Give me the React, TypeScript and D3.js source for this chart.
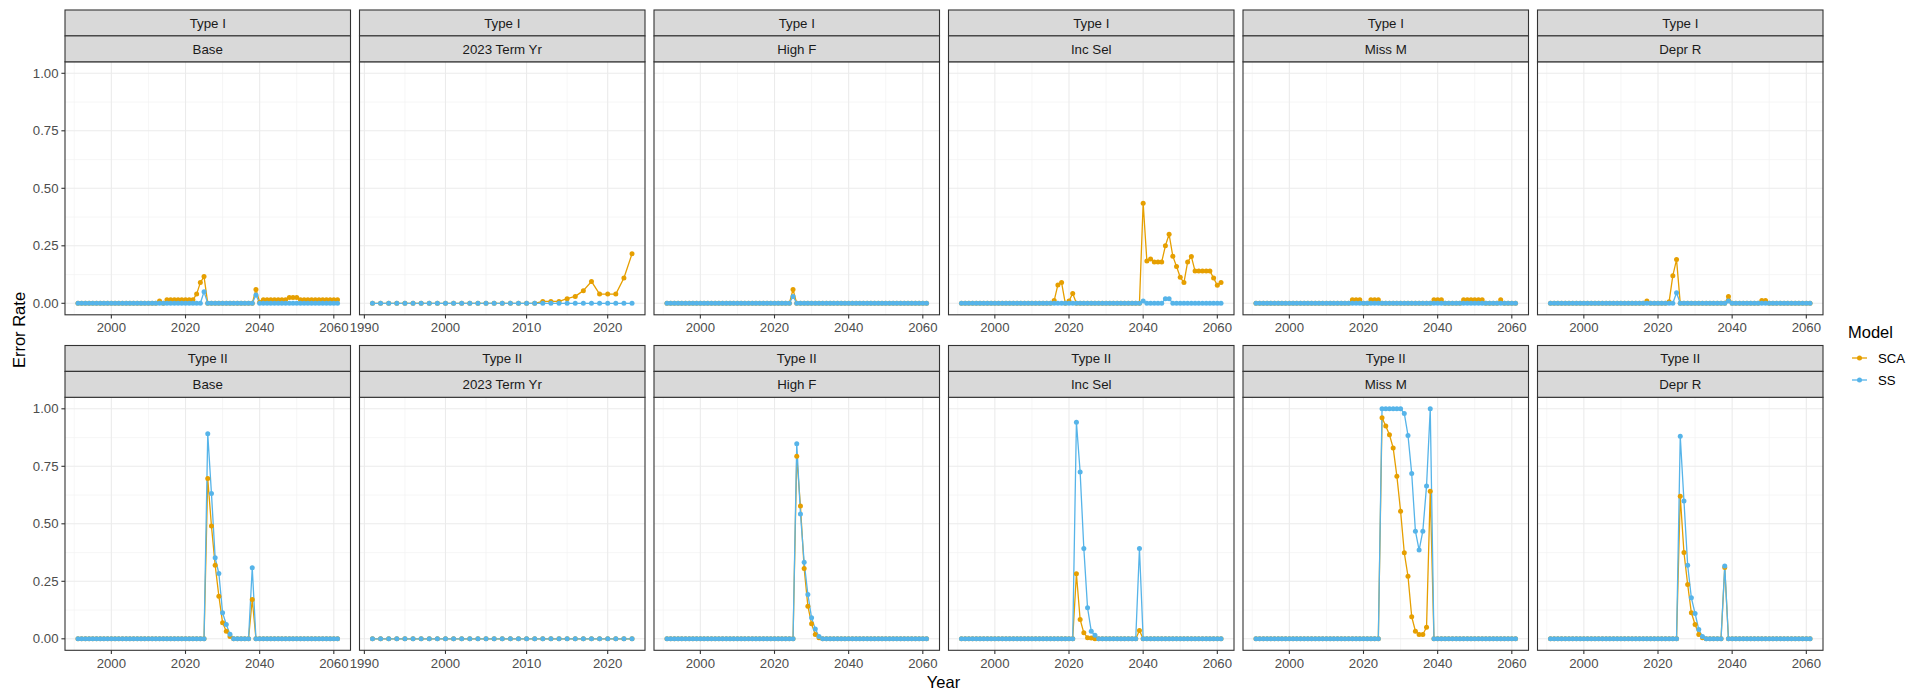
import React from "react";
import * as d3 from "d3";

// ---------- DATA ----------
const yearsFull = [
  1991, 1992, 1993, 1994, 1995, 1996, 1997, 1998, 1999, 2000,
  2001, 2002, 2003, 2004, 2005, 2006, 2007, 2008, 2009, 2010,
  2011, 2012, 2013, 2014, 2015, 2016, 2017, 2018, 2019, 2020,
  2021, 2022, 2023, 2024, 2025, 2026, 2027, 2028, 2029, 2030,
  2031, 2032, 2033, 2034, 2035, 2036, 2037, 2038, 2039, 2040,
  2041, 2042, 2043, 2044, 2045, 2046, 2047, 2048, 2049, 2050,
  2051, 2052, 2053, 2054, 2055, 2056, 2057, 2058, 2059, 2060,
  2061,
];
const yearsTerm = [
  1991, 1992, 1993, 1994, 1995, 1996, 1997, 1998, 1999, 2000,
  2001, 2002, 2003, 2004, 2005, 2006, 2007, 2008, 2009, 2010,
  2011, 2012, 2013, 2014, 2015, 2016, 2017, 2018, 2019, 2020,
  2021, 2022, 2023,
];

const errorTypes = ["Type I", "Type II"];
const scenarios = ["Base", "2023 Term Yr", "High F", "Inc Sel", "Miss M", "Depr R"];
const models = ["SCA", "SS"];

const ticksFull = [2000, 2020, 2040, 2060];
const minorFull = [1990, 2010, 2030, 2050];
const ticksTerm = [1990, 2000, 2010, 2020];
const minorTerm = [1995, 2005, 2015];
const yTicks = [0, 0.25, 0.5, 0.75, 1];
const yTickLabels = ["0.00", "0.25", "0.50", "0.75", "1.00"];
const yMinor = [0.125, 0.375, 0.625, 0.875];

// ---- Type I ----
const t1BaseSCA = [
  0, 0, 0, 0, 0, 0, 0, 0, 0, 0,
  0, 0, 0, 0, 0, 0, 0, 0, 0, 0,
  0, 0, 0.01, 0, 0.015, 0.015, 0.015, 0.015, 0.015, 0.015,
  0.015, 0.015, 0.04, 0.09, 0.116, 0, 0, 0, 0, 0,
  0, 0, 0, 0, 0, 0, 0, 0, 0.06, 0.005,
  0.015, 0.015, 0.015, 0.015, 0.015, 0.015, 0.015, 0.025, 0.025, 0.025,
  0.015, 0.015, 0.015, 0.015, 0.015, 0.015, 0.015, 0.015, 0.015, 0.015,
  0.015,
];
const t1BaseSS = [
  0, 0, 0, 0, 0, 0, 0, 0, 0, 0,
  0, 0, 0, 0, 0, 0, 0, 0, 0, 0,
  0, 0, 0, 0, 0, 0, 0, 0, 0, 0,
  0, 0, 0, 0, 0.05, 0, 0, 0, 0, 0,
  0, 0, 0, 0, 0, 0, 0, 0, 0.036, 0,
  0, 0, 0, 0, 0, 0, 0, 0, 0, 0,
  0, 0, 0, 0, 0, 0, 0, 0, 0, 0,
  0,
];
const t1TermSCA = [
  0, 0, 0, 0, 0, 0, 0, 0, 0, 0,
  0, 0, 0, 0, 0, 0, 0, 0, 0, 0,
  0, 0.008, 0.008, 0.008, 0.02, 0.03, 0.055, 0.095, 0.04, 0.04,
  0.04, 0.11, 0.215,
];
const t1TermSS = [
  0, 0, 0, 0, 0, 0, 0, 0, 0, 0,
  0, 0, 0, 0, 0, 0, 0, 0, 0, 0,
  0, 0, 0, 0, 0, 0, 0, 0, 0, 0,
  0, 0, 0,
];
const t1HighFSCA = [
  0, 0, 0, 0, 0, 0, 0, 0, 0, 0,
  0, 0, 0, 0, 0, 0, 0, 0, 0, 0,
  0, 0, 0, 0, 0, 0, 0, 0, 0, 0,
  0, 0, 0, 0, 0.06, 0, 0, 0, 0, 0,
  0, 0, 0, 0, 0, 0, 0, 0, 0, 0,
  0, 0, 0, 0, 0, 0, 0, 0, 0, 0,
  0, 0, 0, 0, 0, 0, 0, 0, 0, 0,
  0,
];
const t1HighFSS = [
  0, 0, 0, 0, 0, 0, 0, 0, 0, 0,
  0, 0, 0, 0, 0, 0, 0, 0, 0, 0,
  0, 0, 0, 0, 0, 0, 0, 0, 0, 0,
  0, 0, 0, 0, 0.03, 0, 0, 0, 0, 0,
  0, 0, 0, 0, 0, 0, 0, 0, 0, 0,
  0, 0, 0, 0, 0, 0, 0, 0, 0, 0,
  0, 0, 0, 0, 0, 0, 0, 0, 0, 0,
  0,
];
const t1IncSelSCA = [
  0, 0, 0, 0, 0, 0, 0, 0, 0, 0,
  0, 0, 0, 0, 0, 0, 0, 0, 0, 0,
  0, 0, 0, 0, 0, 0.012, 0.08, 0.09, 0, 0.01,
  0.043, 0, 0, 0, 0, 0, 0, 0, 0, 0,
  0, 0, 0, 0, 0, 0, 0, 0, 0, 0.435,
  0.184, 0.193, 0.18, 0.18, 0.18, 0.25, 0.3, 0.205, 0.16, 0.113,
  0.09, 0.18, 0.203, 0.14, 0.14, 0.14, 0.14, 0.14, 0.11, 0.078,
  0.09,
];
const t1IncSelSS = [
  0, 0, 0, 0, 0, 0, 0, 0, 0, 0,
  0, 0, 0, 0, 0, 0, 0, 0, 0, 0,
  0, 0, 0, 0, 0, 0, 0, 0, 0, 0,
  0, 0, 0, 0, 0, 0, 0, 0, 0, 0,
  0, 0, 0, 0, 0, 0, 0, 0, 0, 0.01,
  0, 0, 0, 0, 0, 0.02, 0.02, 0, 0, 0,
  0, 0, 0, 0, 0, 0, 0, 0, 0, 0,
  0,
];
const t1MissMSCA = [
  0, 0, 0, 0, 0, 0, 0, 0, 0, 0,
  0, 0, 0, 0, 0, 0, 0, 0, 0, 0,
  0, 0, 0, 0, 0, 0, 0.015, 0.015, 0.015, 0,
  0, 0.015, 0.015, 0.015, 0, 0, 0, 0, 0, 0,
  0, 0, 0, 0, 0, 0, 0, 0, 0.015, 0.015,
  0.015, 0, 0, 0, 0, 0, 0.015, 0.015, 0.015, 0.015,
  0.015, 0.015, 0, 0, 0, 0, 0.015, 0, 0, 0,
  0,
];
const t1MissMSS = [
  0, 0, 0, 0, 0, 0, 0, 0, 0, 0,
  0, 0, 0, 0, 0, 0, 0, 0, 0, 0,
  0, 0, 0, 0, 0, 0, 0, 0, 0, 0,
  0, 0, 0, 0, 0, 0, 0, 0, 0, 0,
  0, 0, 0, 0, 0, 0, 0, 0, 0, 0,
  0, 0, 0, 0, 0, 0, 0, 0, 0, 0,
  0, 0, 0, 0, 0, 0, 0, 0, 0, 0,
  0,
];
const t1DeprRSCA = [
  0, 0, 0, 0, 0, 0, 0, 0, 0, 0,
  0, 0, 0, 0, 0, 0, 0, 0, 0, 0,
  0, 0, 0, 0, 0, 0, 0.01, 0, 0, 0,
  0, 0, 0.007, 0.12, 0.19, 0, 0, 0, 0, 0,
  0, 0, 0, 0, 0, 0, 0, 0, 0.03, 0,
  0, 0, 0, 0, 0, 0, 0, 0.012, 0.012, 0,
  0, 0, 0, 0, 0, 0, 0, 0, 0, 0,
  0,
];
const t1DeprRSS = [
  0, 0, 0, 0, 0, 0, 0, 0, 0, 0,
  0, 0, 0, 0, 0, 0, 0, 0, 0, 0,
  0, 0, 0, 0, 0, 0, 0, 0, 0, 0,
  0, 0, 0, 0, 0.046, 0, 0, 0, 0, 0,
  0, 0, 0, 0, 0, 0, 0, 0, 0.01, 0,
  0, 0, 0, 0, 0, 0, 0, 0, 0, 0,
  0, 0, 0, 0, 0, 0, 0, 0, 0, 0,
  0,
];

// ---- Type II ----
const t2BaseSCA = [
  0, 0, 0, 0, 0, 0, 0, 0, 0, 0,
  0, 0, 0, 0, 0, 0, 0, 0, 0, 0,
  0, 0, 0, 0, 0, 0, 0, 0, 0, 0,
  0, 0, 0, 0, 0, 0.697, 0.49, 0.32, 0.185, 0.07,
  0.033, 0.01, 0, 0, 0, 0, 0, 0.171, 0, 0,
  0, 0, 0, 0, 0, 0, 0, 0, 0, 0,
  0, 0, 0, 0, 0, 0, 0, 0, 0, 0,
  0,
];
const t2BaseSS = [
  0, 0, 0, 0, 0, 0, 0, 0, 0, 0,
  0, 0, 0, 0, 0, 0, 0, 0, 0, 0,
  0, 0, 0, 0, 0, 0, 0, 0, 0, 0,
  0, 0, 0, 0, 0, 0.891, 0.632, 0.352, 0.284, 0.113,
  0.062, 0.02, 0, 0, 0, 0, 0, 0.309, 0, 0,
  0, 0, 0, 0, 0, 0, 0, 0, 0, 0,
  0, 0, 0, 0, 0, 0, 0, 0, 0, 0,
  0,
];
const t2TermSCA = [
  0, 0, 0, 0, 0, 0, 0, 0, 0, 0,
  0, 0, 0, 0, 0, 0, 0, 0, 0, 0,
  0, 0, 0, 0, 0, 0, 0, 0, 0, 0,
  0, 0, 0,
];
const t2TermSS = [
  0, 0, 0, 0, 0, 0, 0, 0, 0, 0,
  0, 0, 0, 0, 0, 0, 0, 0, 0, 0,
  0, 0, 0, 0, 0, 0, 0, 0, 0, 0,
  0, 0, 0,
];
const t2HighFSCA = [
  0, 0, 0, 0, 0, 0, 0, 0, 0, 0,
  0, 0, 0, 0, 0, 0, 0, 0, 0, 0,
  0, 0, 0, 0, 0, 0, 0, 0, 0, 0,
  0, 0, 0, 0, 0, 0.794, 0.577, 0.306, 0.142, 0.065,
  0.019, 0.005, 0, 0, 0, 0, 0, 0, 0, 0,
  0, 0, 0, 0, 0, 0, 0, 0, 0, 0,
  0, 0, 0, 0, 0, 0, 0, 0, 0, 0,
  0,
];
const t2HighFSS = [
  0, 0, 0, 0, 0, 0, 0, 0, 0, 0,
  0, 0, 0, 0, 0, 0, 0, 0, 0, 0,
  0, 0, 0, 0, 0, 0, 0, 0, 0, 0,
  0, 0, 0, 0, 0, 0.848, 0.543, 0.333, 0.193, 0.091,
  0.043, 0.01, 0, 0, 0, 0, 0, 0, 0, 0,
  0, 0, 0, 0, 0, 0, 0, 0, 0, 0,
  0, 0, 0, 0, 0, 0, 0, 0, 0, 0,
  0,
];
const t2IncSelSCA = [
  0, 0, 0, 0, 0, 0, 0, 0, 0, 0,
  0, 0, 0, 0, 0, 0, 0, 0, 0, 0,
  0, 0, 0, 0, 0, 0, 0, 0, 0, 0,
  0, 0.283, 0.084, 0.026, 0.005, 0.003, 0, 0, 0, 0,
  0, 0, 0, 0, 0, 0, 0, 0, 0.036, 0,
  0, 0, 0, 0, 0, 0, 0, 0, 0, 0,
  0, 0, 0, 0, 0, 0, 0, 0, 0, 0,
  0,
];
const t2IncSelSS = [
  0, 0, 0, 0, 0, 0, 0, 0, 0, 0,
  0, 0, 0, 0, 0, 0, 0, 0, 0, 0,
  0, 0, 0, 0, 0, 0, 0, 0, 0, 0,
  0, 0.942, 0.725, 0.393, 0.135, 0.033, 0.015, 0, 0, 0,
  0, 0, 0, 0, 0, 0, 0, 0, 0.393, 0,
  0, 0, 0, 0, 0, 0, 0, 0, 0, 0,
  0, 0, 0, 0, 0, 0, 0, 0, 0, 0,
  0,
];
const t2MissMSCA = [
  0, 0, 0, 0, 0, 0, 0, 0, 0, 0,
  0, 0, 0, 0, 0, 0, 0, 0, 0, 0,
  0, 0, 0, 0, 0, 0, 0, 0, 0, 0,
  0, 0, 0, 0, 0.961, 0.925, 0.887, 0.83, 0.707, 0.555,
  0.374, 0.272, 0.096, 0.033, 0.019, 0.019, 0.05, 0.642, 0, 0,
  0, 0, 0, 0, 0, 0, 0, 0, 0, 0,
  0, 0, 0, 0, 0, 0, 0, 0, 0, 0,
  0,
];
const t2MissMSS = [
  0, 0, 0, 0, 0, 0, 0, 0, 0, 0,
  0, 0, 0, 0, 0, 0, 0, 0, 0, 0,
  0, 0, 0, 0, 0, 0, 0, 0, 0, 0,
  0, 0, 0, 0, 1, 1, 1, 1, 1, 1,
  0.98, 0.884, 0.719, 0.468, 0.386, 0.468, 0.664, 1, 0, 0,
  0, 0, 0, 0, 0, 0, 0, 0, 0, 0,
  0, 0, 0, 0, 0, 0, 0, 0, 0, 0,
  0,
];
const t2DeprRSCA = [
  0, 0, 0, 0, 0, 0, 0, 0, 0, 0,
  0, 0, 0, 0, 0, 0, 0, 0, 0, 0,
  0, 0, 0, 0, 0, 0, 0, 0, 0, 0,
  0, 0, 0, 0, 0, 0.62, 0.375, 0.236, 0.113, 0.062,
  0.019, 0.005, 0, 0, 0, 0, 0, 0.31, 0, 0,
  0, 0, 0, 0, 0, 0, 0, 0, 0, 0,
  0, 0, 0, 0, 0, 0, 0, 0, 0, 0,
  0,
];
const t2DeprRSS = [
  0, 0, 0, 0, 0, 0, 0, 0, 0, 0,
  0, 0, 0, 0, 0, 0, 0, 0, 0, 0,
  0, 0, 0, 0, 0, 0, 0, 0, 0, 0,
  0, 0, 0, 0, 0, 0.881, 0.599, 0.32, 0.178, 0.11,
  0.04, 0.01, 0, 0, 0, 0, 0, 0.316, 0, 0,
  0, 0, 0, 0, 0, 0, 0, 0, 0, 0,
  0, 0, 0, 0, 0, 0, 0, 0, 0, 0,
  0,
];

// panel table: [row][col] -> { SCA, SS }
const panelSeries = [
  [
    [t1BaseSCA, t1BaseSS],
    [t1TermSCA, t1TermSS],
    [t1HighFSCA, t1HighFSS],
    [t1IncSelSCA, t1IncSelSS],
    [t1MissMSCA, t1MissMSS],
    [t1DeprRSCA, t1DeprRSS],
  ],
  [
    [t2BaseSCA, t2BaseSS],
    [t2TermSCA, t2TermSS],
    [t2HighFSCA, t2HighFSS],
    [t2IncSelSCA, t2IncSelSS],
    [t2MissMSCA, t2MissMSS],
    [t2DeprRSCA, t2DeprRSS],
  ],
];

// ---------- STYLE / LAYOUT ----------
const COLORS = { SCA: "#E69F00", SS: "#56B4E9" };
const FONT = "'Liberation Sans', Arial, Helvetica, sans-serif";
const W = 1927;
const H = 694;
const left0 = 65;
const panelW = 285.5;
const colStep = 294.5;
const stripH = 25.9;
const panelH = 253;
const rowStripTop = [10, 345.5];

function Panel({ r, c }: { r: number; c: number }) {
  const isTerm = scenarios[c] === "2023 Term Yr";
  const yrs = isTerm ? yearsTerm : yearsFull;
  const [scaVals, ssVals] = panelSeries[r][c];
  const x0 = left0 + c * colStep;
  const stripTop = rowStripTop[r];
  const top = stripTop + 2 * stripH;
  const bottom = top + panelH;
  const [mn, mx] = d3.extent(yrs) as [number, number];
  const pad = (mx - mn) * 0.05;
  const x = d3.scaleLinear().domain([mn - pad, mx + pad]).range([x0, x0 + panelW]);
  const y = d3.scaleLinear().domain([-0.05, 1.05]).range([bottom, top]);
  const majors = isTerm ? ticksTerm : ticksFull;
  const minors = isTerm ? minorTerm : minorFull;
  const line = d3
    .line<number>()
    .x((_, i) => x(yrs[i]))
    .y((v) => y(v));
  const series = [
    { key: "SCA", vals: scaVals },
    { key: "SS", vals: ssVals },
  ];
  return (
    <g>
      {/* panel background */}
      <rect x={x0} y={top} width={panelW} height={panelH} fill="#fff" />
      {/* minor grid */}
      {minors.map((t) => (
        <line key={"mx" + t} x1={x(t)} x2={x(t)} y1={top} y2={bottom} stroke="#F2F2F2" strokeWidth={0.7} />
      ))}
      {yMinor.map((t) => (
        <line key={"my" + t} x1={x0} x2={x0 + panelW} y1={y(t)} y2={y(t)} stroke="#F2F2F2" strokeWidth={0.7} />
      ))}
      {/* major grid */}
      {majors.map((t) => (
        <line key={"Mx" + t} x1={x(t)} x2={x(t)} y1={top} y2={bottom} stroke="#EBEBEB" strokeWidth={1.1} />
      ))}
      {yTicks.map((t) => (
        <line key={"My" + t} x1={x0} x2={x0 + panelW} y1={y(t)} y2={y(t)} stroke="#EBEBEB" strokeWidth={1.1} />
      ))}
      {/* lines */}
      {series.map((s) => (
        <path
          key={"l" + s.key}
          d={line(s.vals) || ""}
          fill="none"
          stroke={(COLORS as any)[s.key]}
          strokeWidth={1.3}
          strokeLinejoin="round"
        />
      ))}
      {/* points */}
      {series.map((s) => (
        <g key={"p" + s.key} fill={(COLORS as any)[s.key]}>
          {s.vals.map((v, i) => (
            <circle key={i} cx={x(yrs[i])} cy={y(v)} r={2.5} />
          ))}
        </g>
      ))}
      {/* border */}
      <rect x={x0} y={top} width={panelW} height={panelH} fill="none" stroke="#333" strokeWidth={1.1} />
      {/* strips */}
      {[errorTypes[r], scenarios[c]].map((lab, k) => (
        <g key={"s" + k}>
          <rect
            x={x0}
            y={stripTop + k * stripH}
            width={panelW}
            height={stripH}
            fill="#D9D9D9"
            stroke="#333"
            strokeWidth={1.1}
          />
          <text
            x={x0 + panelW / 2}
            y={stripTop + k * stripH + stripH / 2 + 4.7}
            textAnchor="middle"
            fontSize={13.3}
            fill="#1A1A1A"
            fontFamily={FONT}
          >
            {lab}
          </text>
        </g>
      ))}
      {/* x axis ticks */}
      {majors.map((t) => (
        <g key={"xt" + t}>
          <line x1={x(t)} x2={x(t)} y1={bottom} y2={bottom + 3.6} stroke="#333" strokeWidth={1.1} />
          <text
            x={x(t)}
            y={bottom + 17.6}
            textAnchor="middle"
            fontSize={13.2}
            fill="#4D4D4D"
            fontFamily={FONT}
          >
            {String(t)}
          </text>
        </g>
      ))}
      {/* y axis (first column only) */}
      {c === 0 &&
        yTicks.map((t, i) => (
          <g key={"yt" + t}>
            <line x1={x0 - 3.6} x2={x0} y1={y(t)} y2={y(t)} stroke="#333" strokeWidth={1.1} />
            <text
              x={x0 - 6.5}
              y={y(t) + 4.5}
              textAnchor="end"
              fontSize={13.2}
              fill="#4D4D4D"
              fontFamily={FONT}
            >
              {yTickLabels[i]}
            </text>
          </g>
        ))}
    </g>
  );
}

export default function App() {
  const legendX = 1848;
  const legendKeysY = [358, 380];
  return (
    <svg
      width={W}
      height={H}
      style={{ position: "absolute", left: 0, top: 0, background: "#fff" }}
      fontFamily={FONT}
    >
      <rect x={0} y={0} width={W} height={H} fill="#fff" />
      {errorTypes.map((_, r) =>
        scenarios.map((__, c) => <Panel key={r + "-" + c} r={r} c={c} />)
      )}
      {/* axis titles */}
      <text x={943.5} y={688} textAnchor="middle" fontSize={16.5} fill="#000">
        Year
      </text>
      <text
        transform={`translate(24.5, 330) rotate(-90)`}
        textAnchor="middle"
        fontSize={16.5}
        fill="#000"
      >
        Error Rate
      </text>
      {/* legend */}
      <text x={legendX} y={337.5} fontSize={16.5} fill="#000">
        Model
      </text>
      {models.map((m, i) => (
        <g key={m}>
          <line
            x1={legendX + 4}
            x2={legendX + 19}
            y1={legendKeysY[i]}
            y2={legendKeysY[i]}
            stroke={(COLORS as any)[m]}
            strokeWidth={1.3}
          />
          <circle cx={legendX + 11.5} cy={legendKeysY[i]} r={2.5} fill={(COLORS as any)[m]} />
          <text x={legendX + 30} y={legendKeysY[i] + 4.7} fontSize={13.2} fill="#000">
            {m}
          </text>
        </g>
      ))}
    </svg>
  );
}
